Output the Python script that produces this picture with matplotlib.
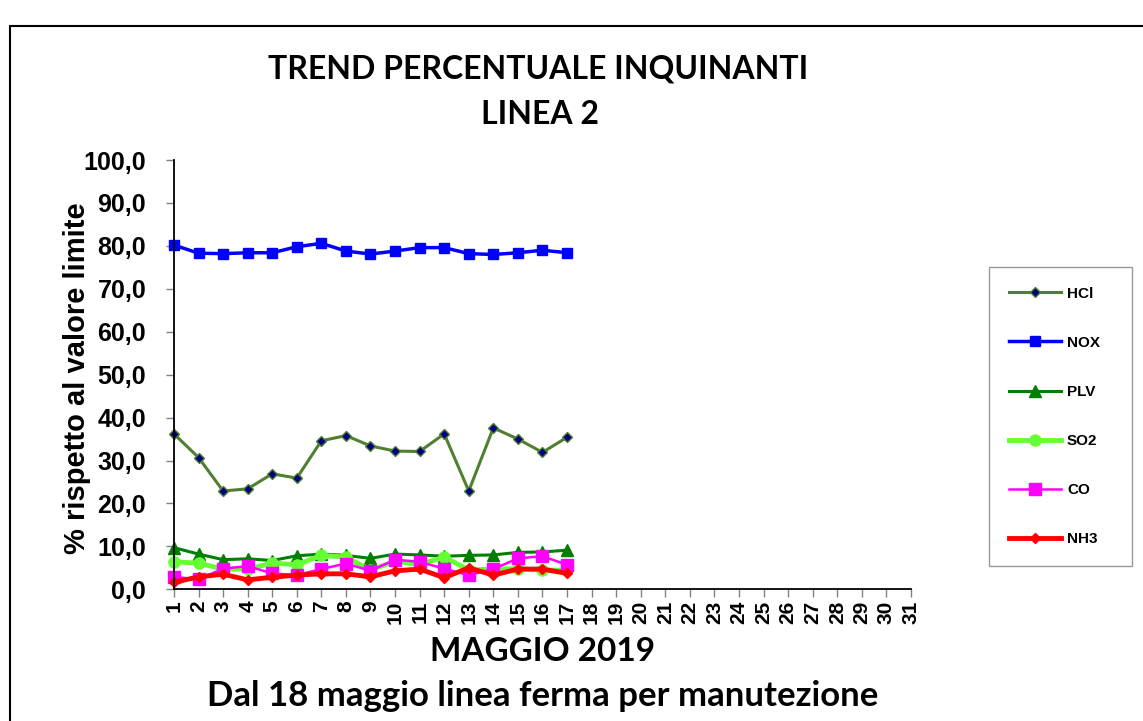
import numpy as np
import matplotlib
matplotlib.use('Agg')
import matplotlib.pyplot as plt
from matplotlib.patches import Rectangle


days = list(range(1, 32))
measured_days = list(range(1, 18))

hcl = [36.2, 30.7, 22.9, 23.4, 26.9, 25.9, 34.6, 35.8, 33.4, 32.2, 32.1, 36.2, 22.9, 37.6, 35.0, 31.9, 35.4]
nox = [80.2, 78.3, 78.2, 78.4, 78.4, 79.8, 80.6, 78.8, 78.1, 78.8, 79.6, 79.6, 78.2, 78.0, 78.4, 79.0, 78.4]
plv = [9.7, 8.2, 6.9, 7.1, 6.7, 7.8, 8.2, 7.9, 7.2, 8.2, 8.0, 7.7, 7.9, 8.0, 8.6, 8.7, 9.1]
so2 = [6.4, 6.1, 4.7, 4.7, 6.1, 5.7, 7.9, 7.5, 4.5, 6.5, 5.8, 7.5, 4.5, 4.7, 4.8, 4.5, 4.4]
co = [2.9, 2.3, 4.8, 5.4, 3.7, 3.3, 4.7, 6.0, 4.3, 6.9, 6.4, 4.8, 3.3, 4.7, 7.2, 7.7, 5.7]
nh3 = [1.6, 2.9, 3.5, 2.2, 2.8, 3.3, 3.6, 3.6, 2.9, 4.3, 4.7, 2.7, 5.0, 3.3, 4.7, 4.7, 3.7]

series_names = ['HCl', 'NOX', 'PLV', 'SO2', 'CO', 'NH3']
y_ticks = list(range(0, 101, 10))

title_1 = 'TREND PERCENTUALE INQUINANTI'
title_2 = 'LINEA 2'
x_title = 'MAGGIO 2019'
x_note = 'Dal 18 maggio linea ferma per manutezione'
y_title = '% rispetto al valore limite'


def draw_series(ax):
    # same order as the excel sheet, last one on top
    styles = [
        dict(color='#4f7f30', lw=2.2, marker='D', ms=5, mfc='#000080', mec='#4f7f30', mew=1),
        dict(color='#0000ff', lw=2.5, marker='s', ms=7.5, mfc='#0000ff', mec='#0000ff'),
        dict(color='#007f00', lw=2.2, marker='^', ms=8, mfc='#007f00', mec='#007f00'),
        dict(color='#66ff33', lw=3.5, marker='o', ms=8, mfc='#66ff33', mec='#66ff33'),
        dict(color='#ff00ff', lw=1.8, marker='s', ms=8, mfc='#ff00ff', mec='#ff00ff'),
        dict(color='#ff0000', lw=3.5, marker='D', ms=5.5, mfc='#ff0000', mec='#ff0000'),
    ]
    values = [hcl, nox, plv, so2, co, nh3]
    for name, vals, st in zip(series_names, values, styles):
        ax.plot(measured_days, vals, label=name, clip_on=False, **st)


def main():
    fig = plt.figure(figsize=(11.43, 7.21), dpi=100)
    ax = fig.add_axes([0.1522, 0.1827, 0.6448, 0.5953])

    draw_series(ax)

    ax.set_xlim(1, 31)
    ax.set_ylim(0, 100)
    ax.set_xticks(days)
    ax.set_xticklabels([str(d) for d in days], rotation=90, fontsize=15,
                       fontweight='bold', family='Liberation Sans')
    ax.set_yticks(y_ticks)
    ax.set_yticklabels([('%.1f' % v).replace('.', ',') for v in y_ticks], fontsize=18,
                       fontweight='bold', family='Liberation Sans')
    ax.tick_params(axis='both', direction='out', length=6, width=1, color='#808080')
    ax.tick_params(axis='y', pad=14)
    ax.tick_params(axis='x', pad=2)

    for side in ['top', 'right']:
        ax.spines[side].set_visible(False)
    for side in ['left', 'bottom']:
        ax.spines[side].set_linewidth(1.3)

    ax.set_ylabel(y_title, fontsize=21, fontweight='bold', family='Liberation Sans')
    ax.yaxis.set_label_coords(-0.113, 0.491)

    # titles are Calibri in the original, Lato is the closest we have
    fig.text(0.471, 0.904, title_1, ha='center', va='center', fontsize=23,
             fontweight='bold', family='Lato')
    fig.text(0.4725, 0.841, title_2, ha='center', va='center', fontsize=23,
             fontweight='bold', family='Lato')
    fig.text(0.475, 0.097, x_title, ha='center', va='center', fontsize=24,
             fontweight='bold', family='Lato')
    fig.text(0.475, 0.035, x_note, ha='center', va='center', fontsize=25,
             fontweight='bold', family='Lato')

    leg = fig.legend(loc='center left',
                     bbox_to_anchor=(989 / 1143, 1 - 567 / 721, 143 / 1143, 301 / 721),
                     mode='expand', prop=dict(family='Liberation Sans', weight='bold', size=11),
                     handlelength=3.4, labelspacing=2.3, borderpad=1.3, fancybox=False,
                     borderaxespad=0, handletextpad=0.4)
    leg.get_frame().set_edgecolor('#808080')
    leg.get_frame().set_linewidth(1)

    # outer chart border, runs off the right and bottom edges
    fig.patches.append(Rectangle((10 / 1143, -0.1), 1.2, 1.1 - 26 / 721, transform=fig.transFigure,
                                 fill=False, edgecolor='black', linewidth=1.5))

    fig.savefig('out.png', dpi=100)


if __name__ == '__main__':
    main()
